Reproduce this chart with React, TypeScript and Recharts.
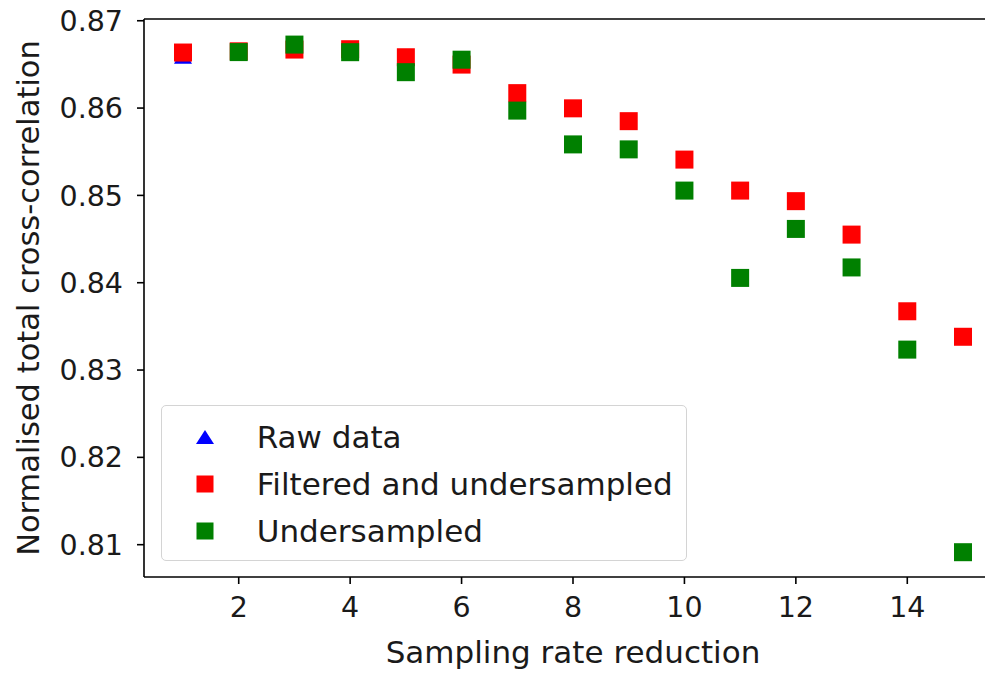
import React from 'react';
import { ScatterChart, Scatter, XAxis, YAxis, Legend, ReferenceLine } from 'recharts';

// Data
const rawX = [1];
const rawY = [0.866];

const filteredX = [1, 2, 3, 4, 5, 6, 7, 8, 9, 10, 11, 12, 13, 14, 15];
const filteredY = [
  0.86636, 0.8665, 0.8667, 0.86674, 0.86582, 0.86498, 0.86171, 0.85997,
  0.8585, 0.8541, 0.85055, 0.84934, 0.84551, 0.83673, 0.83381,
];

const underX = [2, 3, 4, 5, 6, 7, 8, 9, 10, 11, 12, 13, 14, 15];
const underY = [
  0.86641, 0.86727, 0.8664, 0.86411, 0.86554, 0.85971, 0.85584, 0.85527,
  0.85055, 0.84055, 0.84616, 0.84175, 0.83234, 0.80914,
];

const xTicks = [2, 4, 6, 8, 10, 12, 14];
const yTicks = [0.81, 0.82, 0.83, 0.84, 0.85, 0.86, 0.87];
const xDomain = [0.3, 15.7];
const yDomain = [0.8063, 0.8702];

const seriesNames = ['Raw data', 'Filtered and undersampled', 'Undersampled'];
const seriesColors = ['#0000ff', '#ff0000', '#008000'];
const seriesMarkers = ['triangle', 'square', 'square'];

const rawData = rawX.map((x, i) => ({ x, y: rawY[i] }));
const filteredData = filteredX.map((x, i) => ({ x, y: filteredY[i] }));
const underData = underX.map((x, i) => ({ x, y: underY[i] }));

const FONT = '"DejaVu Sans", Verdana, sans-serif';
const TEXT = '#1a1a1a';

const SquareShape = (props: any) => {
  const { cx, cy, fill } = props;
  if (cx == null || cy == null) return null;
  return <rect x={cx - 9} y={cy - 9} width={18} height={18} fill={fill} />;
};

const TriangleShape = (props: any) => {
  const { cx, cy, fill } = props;
  if (cx == null || cy == null) return null;
  return (
    <polygon
      points={`${cx},${cy - 8} ${cx - 9},${cy + 8} ${cx + 9},${cy + 8}`}
      fill={fill}
    />
  );
};

const LegendMarker = ({ type, color }: { type: string; color: string }) => (
  <svg width={20} height={20} style={{ display: 'block' }}>
    {type === 'triangle' ? (
      <polygon points="10,3 1,17 19,17" fill={color} />
    ) : (
      <rect x={1.5} y={1.5} width={17} height={17} fill={color} />
    )}
  </svg>
);

const renderLegend = (props: any) => {
  const payload = props.payload || [];
  const rowCenters = [31, 78, 125];
  const items = seriesNames.map((name, i) => {
    const p = payload.find((e: any) => e.value === name);
    return {
      name,
      color: (p && p.color) || seriesColors[i],
      type: seriesMarkers[i],
    };
  });
  return (
    <div
      style={{
        position: 'relative',
        width: 526,
        height: 156,
        boxSizing: 'border-box',
        border: '1.5px solid #d4d4d4',
        borderRadius: 5,
        background: 'rgba(255,255,255,0.8)',
        fontFamily: FONT,
        color: TEXT,
      }}
    >
      {items.map((entry, i) => (
        <div
          key={i}
          style={{
            position: 'absolute',
            left: 0,
            top: rowCenters[i] - 20,
            height: 40,
            width: '100%',
          }}
        >
          <div style={{ position: 'absolute', left: 33, top: 10 }}>
            <LegendMarker type={entry.type} color={entry.color} />
          </div>
          <div
            style={{
              position: 'absolute',
              left: 95,
              top: 0,
              lineHeight: '40px',
              fontSize: 31,
              whiteSpace: 'nowrap',
            }}
          >
            {entry.name}
          </div>
        </div>
      ))}
    </div>
  );
};

const YLabel = (props: any) => {
  const vb = props.viewBox || { x: 0, y: 0, width: 0, height: 0 };
  const cx = 28;
  const cy = vb.y + vb.height / 2;
  return (
    <text
      x={cx}
      y={cy}
      transform={`rotate(-90, ${cx}, ${cy})`}
      textAnchor="middle"
      dy="0.36em"
      fontFamily={FONT}
      fontSize={30.5}
      fill={TEXT}
    >
      Normalised total cross-correlation
    </text>
  );
};

const XLabel = (props: any) => {
  const vb = props.viewBox || { x: 0, y: 0, width: 0, height: 0 };
  return (
    <text
      x={vb.x + vb.width / 2}
      y={663}
      textAnchor="middle"
      fontFamily={FONT}
      fontSize={31}
      fill={TEXT}
    >
      Sampling rate reduction
    </text>
  );
};

export default function App() {
  return (
    <div
      style={{
        width: 993,
        height: 673,
        marginTop: -8,
        marginLeft: -8,
        overflow: 'hidden',
        position: 'relative',
      }}
    >
      <ScatterChart
        width={1008}
        height={673}
        margin={{ top: 19, right: 6, bottom: 0, left: 0 }}
      >
        <XAxis
          type="number"
          dataKey="x"
          domain={xDomain}
          allowDataOverflow
          ticks={xTicks}
          interval={0}
          height={96}
          tickSize={7}
          tickMargin={13}
          axisLine={{ stroke: '#000', strokeWidth: 1.6 }}
          tickLine={{ stroke: '#000', strokeWidth: 1.6 }}
          tick={{ fontFamily: FONT, fontSize: 28.5, fill: TEXT }}
          label={<XLabel />}
        />
        <YAxis
          type="number"
          dataKey="y"
          domain={yDomain}
          allowDataOverflow
          ticks={yTicks}
          interval={0}
          width={144}
          tickSize={7}
          tickMargin={14}
          tickFormatter={(v: number) => v.toFixed(2)}
          axisLine={{ stroke: '#000', strokeWidth: 1.6 }}
          tickLine={{ stroke: '#000', strokeWidth: 1.6 }}
          tick={{ fontFamily: FONT, fontSize: 28.5, fill: TEXT }}
          label={<YLabel />}
        />
        <ReferenceLine y={yDomain[1]} stroke="#000" strokeWidth={1.6} ifOverflow="visible" />
        <Legend
          layout="horizontal"
          verticalAlign="middle"
          align="center"
          content={renderLegend}
          wrapperStyle={{ left: 160.7, top: 405, width: 526, height: 156 }}
        />
        <Scatter
          name={seriesNames[0]}
          data={rawData}
          fill={seriesColors[0]}
          legendType="triangle"
          shape={<TriangleShape />}
          isAnimationActive={false}
        />
        <Scatter
          name={seriesNames[1]}
          data={filteredData}
          fill={seriesColors[1]}
          legendType="square"
          shape={<SquareShape />}
          isAnimationActive={false}
        />
        <Scatter
          name={seriesNames[2]}
          data={underData}
          fill={seriesColors[2]}
          legendType="square"
          shape={<SquareShape />}
          isAnimationActive={false}
        />
      </ScatterChart>
    </div>
  );
}
